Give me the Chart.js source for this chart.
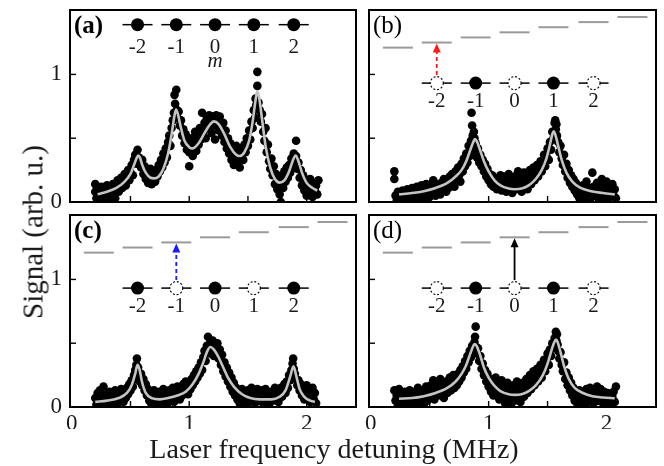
<!DOCTYPE html>
<html><head><meta charset="utf-8">
<script src="https://cdn.jsdelivr.net/npm/chart.js@4.4.1/dist/chart.umd.min.js"></script>
<style>
html,body{margin:0;padding:0;background:#fff;}
#wrap{position:relative;width:664px;height:466px;overflow:hidden;background:#fff;}
#wrap canvas{position:absolute;left:0;top:0;}
.ttl{position:absolute;font-family:'Liberation Serif','DejaVu Serif',serif;color:#1a1a1a;white-space:nowrap;line-height:1;}
</style></head><body>
<div id="wrap">
<canvas id="cA" width="664" height="466"></canvas>
<canvas id="cB" width="664" height="466"></canvas>
<canvas id="cC" width="664" height="466"></canvas>
<canvas id="cD" width="664" height="466"></canvas>
<div class="ttl" id="ytitle" style="font-size:29px;left:33px;top:232px;transform:translate(-50%,-50%) rotate(-90deg);">Signal (arb. u.)</div>
<div class="ttl" id="xtitle" style="font-size:28px;left:334px;top:449px;transform:translate(-50%,-50%);">Laser frequency detuning (MHz)</div>
</div>
<script>
// ---------------- data ----------------
const xTickLabels = [0, 1, 2];
const yTickLabels = [0, 1];
const xTickMarks = [0.5, 1, 1.5, 2];
const yTickMarks = [0, 0.5, 1];

const siteLabels = ['-2', '-1', '0', '1', '2'];
const sitePositions = [0.56, 0.89, 1.22, 1.55, 1.89];
const levelPositions = [0.23, 0.56, 0.89, 1.22, 1.55, 1.89, 2.22];
const levelEnergies = [1.21, 1.25, 1.29, 1.33, 1.37, 1.41, 1.45];

const occupationA = [1, 1, 1, 1, 1];
const occupationB = [0, 1, 0, 1, 0];
const occupationC = [1, 0, 1, 0, 1];
const occupationD = [0, 1, 0, 1, 0];

const scatterA = [
[0.20,0.14],[0.20,0.08],[0.21,0.03],[0.22,0.11],[0.23,0.05],[0.24,0.00],[0.25,0.12],[0.26,0.07],[0.27,0.02],[0.28,0.10],
[0.29,0.05],[0.30,0.13],[0.31,0.08],[0.32,0.03],[0.33,0.11],[0.34,0.06],[0.35,0.14],[0.36,0.09],[0.37,0.03],[0.38,0.13],
[0.39,0.17],[0.40,0.08],[0.41,0.14],[0.42,0.19],[0.43,0.11],[0.44,0.16],[0.45,0.22],[0.46,0.13],[0.47,0.20],[0.48,0.25],
[0.49,0.17],[0.50,0.23],[0.51,0.29],[0.52,0.21],[0.53,0.33],[0.54,0.37],[0.55,0.30],[0.56,0.41],[0.57,0.35],[0.58,0.31],
[0.59,0.27],[0.60,0.33],[0.61,0.22],[0.62,0.28],[0.63,0.18],[0.64,0.24],[0.65,0.15],[0.66,0.21],[0.67,0.26],[0.68,0.14],
[0.69,0.19],[0.70,0.23],[0.71,0.16],[0.72,0.25],[0.73,0.20],[0.74,0.29],[0.75,0.24],[0.76,0.33],[0.77,0.27],[0.78,0.38],
[0.79,0.31],[0.80,0.42],[0.81,0.35],[0.82,0.47],[0.83,0.52],[0.84,0.44],[0.85,0.58],[0.86,0.64],[0.87,0.70],[0.875,0.84],
[0.88,0.77],[0.89,0.88],[0.895,0.72],[0.90,0.66],[0.91,0.71],[0.92,0.60],[0.93,0.64],[0.94,0.52],[0.95,0.57],[0.96,0.46],
[0.97,0.53],[0.98,0.41],[0.99,0.48],[1.00,0.28],[1.00,0.39],[1.01,0.45],[1.02,0.50],[1.03,0.36],[1.04,0.47],[1.05,0.55],
[1.06,0.40],[1.07,0.52],[1.08,0.45],[1.09,0.58],[1.10,0.49],[1.11,0.70],[1.12,0.55],[1.13,0.62],[1.14,0.50],[1.15,0.66],
[1.16,0.58],[1.17,0.68],[1.18,0.61],[1.19,0.54],[1.20,0.67],[1.21,0.60],[1.22,0.49],[1.23,0.68],[1.24,0.63],[1.25,0.56],
[1.26,0.67],[1.27,0.60],[1.28,0.52],[1.29,0.62],[1.30,0.47],[1.31,0.56],[1.32,0.42],[1.33,0.50],[1.34,0.38],[1.35,0.46],
[1.36,0.33],[1.37,0.41],[1.38,0.29],[1.39,0.37],[1.40,0.44],[1.41,0.31],[1.42,0.38],[1.43,0.27],[1.44,0.35],[1.45,0.42],
[1.46,0.33],[1.47,0.45],[1.48,0.39],[1.49,0.50],[1.50,0.44],[1.51,0.56],[1.52,0.49],[1.53,0.63],[1.54,0.58],[1.55,0.72],
[1.56,0.66],[1.565,0.81],[1.57,0.76],[1.58,0.91],[1.58,1.02],[1.59,0.78],[1.60,0.72],[1.61,0.63],[1.62,0.69],[1.63,0.55],
[1.64,0.48],[1.65,0.58],[1.66,0.39],[1.67,0.45],[1.68,0.32],[1.69,0.26],[1.70,0.34],[1.71,0.21],[1.72,0.28],[1.73,0.14],
[1.74,0.22],[1.75,0.10],[1.76,0.18],[1.77,0.06],[1.78,0.13],[1.78,0.00],[1.79,0.20],[1.80,0.11],[1.81,0.24],[1.82,0.16],
[1.83,0.27],[1.84,0.19],[1.85,0.29],[1.86,0.23],[1.87,0.34],[1.88,0.28],[1.89,0.38],[1.90,0.31],[1.91,0.48],[1.91,0.36],
[1.92,0.26],[1.93,0.31],[1.94,0.19],[1.95,0.25],[1.96,0.13],[1.97,0.21],[1.98,0.09],[1.99,0.16],[2.00,0.05],[2.01,0.14],
[2.02,0.08],[2.03,0.18],[2.04,0.11],[2.05,0.04],[2.06,0.15],[2.07,0.09],[2.08,0.13],[2.09,0.06],[2.10,0.17]
];
const fitA = [
[0.22,0.06],[0.30,0.08],[0.38,0.11],[0.45,0.16],[0.50,0.22],[0.53,0.29],[0.555,0.35],[0.567,0.365],[0.58,0.35],[0.60,0.29],
[0.63,0.23],[0.67,0.19],[0.70,0.185],[0.74,0.20],[0.78,0.26],[0.82,0.38],[0.85,0.53],[0.875,0.68],[0.888,0.725],[0.90,0.70],
[0.93,0.58],[0.96,0.48],[1.00,0.43],[1.03,0.42],[1.08,0.46],[1.13,0.54],[1.18,0.61],[1.21,0.632],[1.25,0.61],[1.30,0.53],
[1.35,0.43],[1.40,0.37],[1.43,0.36],[1.47,0.39],[1.51,0.48],[1.54,0.63],[1.565,0.80],[1.58,0.87],[1.595,0.82],[1.62,0.65],
[1.65,0.44],[1.69,0.27],[1.73,0.18],[1.77,0.152],[1.81,0.17],[1.85,0.24],[1.88,0.32],[1.906,0.365],[1.93,0.32],[1.96,0.23],
[2.00,0.15],[2.05,0.11],[2.09,0.09]
];

const scatterB = [
[0.20,0.24],[0.20,0.18],[0.21,0.05],[0.22,0.01],[0.23,0.08],[0.24,0.03],[0.25,0.06],[0.26,0.00],[0.27,0.09],[0.28,0.04],
[0.29,0.07],[0.30,0.01],[0.31,0.10],[0.32,0.05],[0.33,0.02],[0.34,0.08],[0.35,0.11],[0.36,0.04],[0.37,0.09],[0.38,0.01],
[0.39,0.12],[0.40,0.06],[0.41,0.10],[0.42,0.03],[0.43,0.13],[0.44,0.07],[0.45,0.02],[0.46,0.11],[0.47,0.14],[0.48,0.06],
[0.49,0.10],[0.50,0.04],[0.51,0.13],[0.52,0.08],[0.53,0.17],[0.54,0.11],[0.55,0.05],[0.56,0.14],[0.57,0.09],[0.58,0.12],
[0.59,0.06],[0.60,0.15],[0.61,0.10],[0.62,0.18],[0.63,0.13],[0.64,0.08],[0.65,0.16],[0.66,0.11],[0.67,0.20],[0.68,0.14],
[0.69,0.22],[0.70,0.17],[0.71,0.12],[0.72,0.24],[0.73,0.19],[0.74,0.27],[0.75,0.21],[0.76,0.16],[0.77,0.30],[0.78,0.24],
[0.79,0.34],[0.80,0.28],[0.81,0.38],[0.82,0.31],[0.83,0.44],[0.84,0.36],[0.85,0.48],[0.855,0.70],[0.86,0.60],[0.865,0.52],
[0.87,0.45],[0.875,0.55],[0.88,0.50],[0.885,0.40],[0.89,0.46],[0.90,0.35],[0.91,0.42],[0.92,0.31],[0.93,0.37],[0.94,0.28],
[0.95,0.33],[0.96,0.24],[0.97,0.30],[0.98,0.20],[0.99,0.26],[1.00,0.17],[1.01,0.22],[1.02,0.14],[1.03,0.21],[1.04,0.12],
[1.05,0.19],[1.06,0.15],[1.07,0.10],[1.08,0.18],[1.09,0.13],[1.10,0.21],[1.11,0.09],[1.12,0.16],[1.13,0.12],[1.14,0.20],
[1.15,0.08],[1.16,0.15],[1.17,0.22],[1.18,0.11],[1.19,0.17],[1.20,0.07],[1.21,0.14],[1.22,0.20],[1.23,0.10],[1.24,0.16],
[1.25,0.24],[1.26,0.12],[1.27,0.19],[1.28,0.08],[1.29,0.15],[1.30,0.23],[1.31,0.13],[1.32,0.20],[1.33,0.10],[1.34,0.17],
[1.35,0.25],[1.36,0.14],[1.37,0.21],[1.38,0.27],[1.39,0.17],[1.40,0.23],[1.41,0.29],[1.42,0.20],[1.43,0.26],[1.44,0.32],
[1.45,0.24],[1.46,0.30],[1.47,0.37],[1.48,0.28],[1.49,0.36],[1.50,0.42],[1.51,0.33],[1.52,0.47],[1.53,0.41],[1.54,0.55],
[1.55,0.50],[1.56,0.62],[1.565,0.64],[1.57,0.57],[1.575,0.61],[1.58,0.52],[1.59,0.47],[1.60,0.39],[1.61,0.44],[1.62,0.34],
[1.63,0.29],[1.64,0.37],[1.65,0.24],[1.66,0.30],[1.67,0.19],[1.68,0.25],[1.69,0.15],[1.70,0.21],[1.71,0.12],[1.72,0.18],
[1.73,0.09],[1.74,0.15],[1.75,0.06],[1.76,0.12],[1.77,0.03],[1.78,0.10],[1.79,0.07],[1.80,0.13],[1.81,0.04],[1.82,0.09],
[1.83,0.16],[1.84,0.06],[1.85,0.11],[1.86,0.02],[1.87,0.08],[1.88,0.23],[1.89,0.12],[1.90,0.05],[1.91,0.10],[1.92,0.15],
[1.93,0.03],[1.94,0.08],[1.95,0.13],[1.96,0.18],[1.97,0.06],[1.98,0.11],[1.99,0.02],[2.00,0.16],[2.01,0.07],[2.02,0.12],
[2.03,0.04],[2.04,0.09],[2.05,0.14],[2.06,0.05],[2.07,0.10],[2.08,0.03]
];
const fitB = [
[0.24,0.06],[0.35,0.07],[0.45,0.085],[0.55,0.11],[0.65,0.15],[0.72,0.20],[0.77,0.25],[0.81,0.32],[0.845,0.41],[0.87,0.47],
[0.883,0.493],[0.90,0.475],[0.93,0.40],[0.96,0.32],[1.00,0.24],[1.05,0.17],[1.10,0.13],[1.17,0.105],[1.22,0.10],[1.28,0.105],
[1.34,0.13],[1.40,0.18],[1.45,0.25],[1.49,0.34],[1.52,0.45],[1.54,0.53],[1.551,0.554],[1.565,0.53],[1.59,0.44],[1.62,0.33],
[1.66,0.23],[1.71,0.16],[1.78,0.11],[1.87,0.085],[1.97,0.07],[2.07,0.06]
];

const scatterC = [
[0.20,0.07],[0.21,0.02],[0.22,0.11],[0.23,0.05],[0.24,0.13],[0.25,0.03],[0.26,0.09],[0.27,0.16],[0.28,0.06],[0.29,0.01],
[0.30,0.10],[0.31,0.04],[0.32,0.12],[0.33,0.07],[0.34,0.02],[0.35,0.10],[0.36,0.05],[0.37,0.13],[0.38,0.08],[0.39,0.03],
[0.40,0.11],[0.41,0.06],[0.42,0.14],[0.43,0.09],[0.44,0.04],[0.45,0.12],[0.46,0.07],[0.47,0.15],[0.48,0.10],[0.49,0.18],
[0.50,0.13],[0.51,0.21],[0.52,0.16],[0.53,0.25],[0.54,0.29],[0.545,0.22],[0.55,0.33],[0.555,0.38],[0.56,0.27],[0.565,0.31],
[0.57,0.24],[0.58,0.20],[0.59,0.26],[0.60,0.17],[0.61,0.22],[0.62,0.13],[0.63,0.18],[0.64,0.09],[0.65,0.14],[0.66,0.05],
[0.67,0.11],[0.68,0.02],[0.69,0.08],[0.70,0.13],[0.71,0.04],[0.72,0.10],[0.73,0.01],[0.74,0.07],[0.75,0.12],[0.76,0.03],
[0.77,0.09],[0.78,0.14],[0.79,0.05],[0.80,0.11],[0.81,0.02],[0.82,0.08],[0.83,0.13],[0.84,0.06],[0.85,0.10],[0.86,0.15],
[0.87,0.04],[0.88,0.12],[0.89,0.08],[0.90,0.16],[0.91,0.11],[0.92,0.06],[0.93,0.14],[0.94,0.09],[0.95,0.18],[0.96,0.12],
[0.97,0.20],[0.98,0.15],[0.99,0.10],[1.00,0.19],[1.01,0.14],[1.02,0.22],[1.03,0.17],[1.04,0.25],[1.05,0.20],[1.06,0.28],
[1.07,0.23],[1.08,0.31],[1.09,0.26],[1.10,0.35],[1.11,0.29],[1.12,0.39],[1.13,0.44],[1.14,0.36],[1.15,0.48],[1.16,0.55],
[1.17,0.42],[1.18,0.51],[1.19,0.46],[1.20,0.52],[1.21,0.40],[1.22,0.49],[1.23,0.44],[1.24,0.50],[1.25,0.38],[1.26,0.45],
[1.27,0.33],[1.28,0.41],[1.29,0.28],[1.30,0.35],[1.31,0.24],[1.32,0.31],[1.33,0.20],[1.34,0.27],[1.35,0.16],[1.36,0.23],
[1.37,0.12],[1.38,0.19],[1.39,0.09],[1.40,0.15],[1.41,0.06],[1.42,0.12],[1.43,0.03],[1.44,0.09],[1.45,0.14],[1.46,0.05],
[1.47,0.11],[1.48,0.02],[1.49,0.08],[1.50,0.13],[1.51,0.04],[1.52,0.10],[1.53,0.15],[1.54,0.06],[1.55,0.12],[1.56,0.03],
[1.57,0.09],[1.58,0.14],[1.59,0.05],[1.60,0.11],[1.61,0.07],[1.62,0.13],[1.63,0.03],[1.64,0.09],[1.65,0.14],[1.66,0.06],
[1.67,0.11],[1.68,0.02],[1.69,0.08],[1.70,0.12],[1.71,0.05],[1.72,0.10],[1.73,0.15],[1.74,0.07],[1.75,0.12],[1.76,0.04],
[1.77,0.10],[1.78,0.15],[1.79,0.08],[1.80,0.13],[1.81,0.18],[1.82,0.11],[1.83,0.20],[1.84,0.15],[1.85,0.25],[1.86,0.21],
[1.87,0.29],[1.88,0.34],[1.885,0.38],[1.89,0.30],[1.90,0.26],[1.91,0.22],[1.92,0.17],[1.93,0.21],[1.94,0.13],[1.95,0.18],
[1.96,0.09],[1.97,0.15],[1.98,0.06],[1.99,0.12],[2.00,0.17],[2.01,0.08],[2.02,0.13],[2.03,0.04],[2.04,0.10],[2.05,0.15],
[2.06,0.06],[2.07,0.11],[2.08,0.03]
];
const fitC = [
[0.20,0.04],[0.30,0.05],[0.40,0.07],[0.47,0.11],[0.51,0.17],[0.54,0.26],[0.56,0.33],[0.575,0.30],[0.60,0.19],[0.63,0.11],
[0.68,0.07],[0.75,0.06],[0.82,0.07],[0.90,0.09],[0.97,0.12],[1.03,0.18],[1.08,0.26],[1.12,0.35],[1.155,0.44],[1.18,0.47],
[1.21,0.45],[1.25,0.39],[1.29,0.31],[1.33,0.23],[1.38,0.16],[1.45,0.10],[1.52,0.07],[1.60,0.06],[1.70,0.06],[1.77,0.08],
[1.82,0.13],[1.86,0.24],[1.888,0.32],[1.91,0.25],[1.94,0.14],[1.98,0.08],[2.03,0.05],[2.07,0.04]
];

const scatterD = [
[0.20,0.13],[0.21,0.05],[0.22,0.09],[0.23,0.01],[0.24,0.14],[0.25,0.07],[0.26,0.03],[0.27,0.11],[0.28,0.06],[0.29,0.12],
[0.30,0.02],[0.31,0.09],[0.32,0.05],[0.33,0.13],[0.34,0.08],[0.35,0.01],[0.36,0.10],[0.37,0.04],[0.38,0.12],[0.39,0.07],
[0.40,0.15],[0.41,0.03],[0.42,0.10],[0.43,0.06],[0.44,0.13],[0.45,0.02],[0.46,0.09],[0.47,0.16],[0.48,0.05],[0.49,0.12],
[0.50,0.08],[0.51,0.17],[0.52,0.11],[0.53,0.21],[0.54,0.06],[0.55,0.14],[0.56,0.19],[0.57,0.09],[0.58,0.16],[0.59,0.22],
[0.60,0.12],[0.61,0.18],[0.62,0.07],[0.63,0.14],[0.64,0.20],[0.65,0.11],[0.66,0.17],[0.67,0.23],[0.68,0.13],[0.69,0.19],
[0.70,0.25],[0.71,0.15],[0.72,0.22],[0.73,0.17],[0.74,0.26],[0.75,0.20],[0.76,0.29],[0.77,0.23],[0.78,0.32],[0.79,0.27],
[0.80,0.36],[0.81,0.30],[0.82,0.40],[0.83,0.35],[0.84,0.44],[0.85,0.39],[0.86,0.48],[0.87,0.43],[0.88,0.51],[0.885,0.55],
[0.89,0.63],[0.895,0.47],[0.90,0.42],[0.91,0.46],[0.92,0.36],[0.93,0.40],[0.94,0.30],[0.95,0.34],[0.96,0.25],[0.97,0.29],
[0.98,0.20],[0.99,0.26],[1.00,0.16],[1.01,0.22],[1.02,0.12],[1.03,0.19],[1.04,0.09],[1.05,0.16],[1.06,0.23],[1.07,0.11],
[1.08,0.18],[1.09,0.06],[1.10,0.14],[1.11,0.21],[1.12,0.08],[1.13,0.15],[1.14,0.03],[1.15,0.12],[1.16,0.19],[1.17,0.07],
[1.18,0.14],[1.19,0.02],[1.20,0.10],[1.21,0.17],[1.22,0.05],[1.23,0.13],[1.24,0.20],[1.25,0.09],[1.26,0.16],[1.27,0.04],
[1.28,0.12],[1.29,0.19],[1.30,0.08],[1.31,0.15],[1.32,0.22],[1.33,0.11],[1.34,0.18],[1.35,0.25],[1.36,0.14],[1.37,0.21],
[1.38,0.28],[1.39,0.17],[1.40,0.24],[1.41,0.30],[1.42,0.20],[1.43,0.27],[1.44,0.33],[1.45,0.23],[1.46,0.31],[1.47,0.37],
[1.48,0.28],[1.49,0.36],[1.50,0.42],[1.51,0.33],[1.52,0.45],[1.53,0.40],[1.54,0.50],[1.55,0.46],[1.56,0.54],[1.57,0.59],
[1.575,0.52],[1.58,0.57],[1.585,0.49],[1.59,0.44],[1.60,0.38],[1.61,0.43],[1.62,0.33],[1.63,0.28],[1.64,0.35],[1.65,0.22],
[1.66,0.27],[1.67,0.17],[1.68,0.23],[1.69,0.13],[1.70,0.19],[1.71,0.09],[1.72,0.15],[1.73,0.05],[1.74,0.11],[1.75,0.03],
[1.76,0.08],[1.77,0.13],[1.78,0.05],[1.79,0.10],[1.80,0.02],[1.81,0.12],[1.82,0.07],[1.83,0.14],[1.84,0.04],[1.85,0.09],
[1.86,0.15],[1.87,0.06],[1.88,0.11],[1.89,0.03],[1.90,0.13],[1.91,0.08],[1.92,0.16],[1.93,0.05],[1.94,0.10],[1.95,0.14],
[1.96,0.04],[1.97,0.09],[1.98,0.12],[1.99,0.02],[2.00,0.07],[2.01,0.11],[2.02,0.05],[2.03,0.09],[2.04,0.03],[2.05,0.08],
[2.06,0.12],[2.07,0.04],[2.08,0.16]
];
const fitD = [
[0.24,0.065],[0.35,0.07],[0.45,0.085],[0.55,0.11],[0.65,0.15],[0.72,0.20],[0.77,0.26],[0.81,0.33],[0.845,0.42],[0.87,0.48],
[0.883,0.494],[0.90,0.475],[0.93,0.40],[0.96,0.31],[1.00,0.23],[1.05,0.165],[1.10,0.125],[1.17,0.10],[1.22,0.095],[1.28,0.10],
[1.34,0.125],[1.40,0.17],[1.46,0.25],[1.50,0.34],[1.535,0.45],[1.558,0.51],[1.572,0.528],[1.585,0.51],[1.61,0.43],[1.64,0.32],
[1.68,0.22],[1.73,0.15],[1.80,0.11],[1.88,0.085],[1.97,0.075],[2.07,0.068]
];

// ---------------- layout / style ----------------
const FONT = "'Liberation Serif', 'DejaVu Serif', serif";
const TEXT = '#1a1a1a';
const X_MIN = -0.015, X_MAX = 2.42, Y_MIN = 0, Y_MAX = 1.505;
const AXIS_W = 22, AXIS_H = 22;

const decorPlugin = {
  id: 'decor',
  afterDatasetsDraw(chart, args, o) {
    const { ctx, chartArea: a } = chart;
    const xs = chart.scales.x, ys = chart.scales.y;
    const X = v => xs.getPixelForValue(v), Y = v => ys.getPixelForValue(v);
    ctx.save();
    // inward ticks
    ctx.strokeStyle = '#000'; ctx.lineWidth = 1.4;
    xTickMarks.forEach(v => { const p = X(v); ctx.beginPath(); ctx.moveTo(p, a.bottom); ctx.lineTo(p, a.bottom - 6); ctx.stroke(); });
    yTickMarks.forEach(v => { const p = Y(v); ctx.beginPath(); ctx.moveTo(a.left, p); ctx.lineTo(a.left + 6, p); ctx.stroke(); });
    // frame
    ctx.lineWidth = 2; ctx.strokeRect(a.left, a.top, a.right - a.left, a.bottom - a.top);

    // energy levels
    if (o.levels) {
      ctx.strokeStyle = '#9a9a9a'; ctx.lineWidth = 2;
      levelPositions.forEach((lx, i) => {
        const cx = X(lx), ly = Y(levelEnergies[i]);
        ctx.beginPath(); ctx.moveTo(cx - 15, ly); ctx.lineTo(cx + 15, ly); ctx.stroke();
      });
    }
    // arrow
    const sy = Y(o.siteY);
    if (o.arrow) {
      const ax = X(sitePositions[o.arrow.site]);
      const topY = Y(levelEnergies[o.arrow.level]) + 1;
      const baseY = sy - 8;
      ctx.strokeStyle = o.arrow.color; ctx.fillStyle = o.arrow.color; ctx.lineWidth = 1.8;
      ctx.setLineDash(o.arrow.dashed ? [4, 3] : []);
      ctx.beginPath(); ctx.moveTo(ax, baseY); ctx.lineTo(ax, topY + 7); ctx.stroke();
      ctx.setLineDash([]);
      ctx.beginPath(); ctx.moveTo(ax, topY); ctx.lineTo(ax - 4, topY + 9); ctx.lineTo(ax + 4, topY + 9); ctx.closePath(); ctx.fill();
    }
    // lattice sites
    sitePositions.forEach((sx, i) => {
      const cx = X(sx);
      ctx.strokeStyle = '#000'; ctx.lineWidth = 1.5; ctx.setLineDash([]);
      ctx.beginPath(); ctx.moveTo(cx - 15, sy); ctx.lineTo(cx + 15, sy); ctx.stroke();
      ctx.beginPath(); ctx.arc(cx, sy, 6.5, 0, Math.PI * 2);
      if (o.occupation[i]) { ctx.fillStyle = '#000'; ctx.fill(); }
      else { ctx.fillStyle = '#fff'; ctx.fill(); ctx.lineWidth = 1.1; ctx.setLineDash([2, 1.8]); ctx.stroke(); ctx.setLineDash([]); }
      ctx.fillStyle = TEXT; ctx.font = '21px ' + FONT; ctx.textAlign = 'center'; ctx.textBaseline = 'middle';
      ctx.fillText(siteLabels[i], cx, Y(o.labelY));
    });
    if (o.mLabel) {
      ctx.font = 'italic 21px ' + FONT; ctx.textAlign = 'center'; ctx.textBaseline = 'middle';
      ctx.fillText(o.mLabel, X(sitePositions[2]), Y(o.mY));
    }
    // panel label
    ctx.fillStyle = '#000'; ctx.textAlign = 'left'; ctx.textBaseline = 'top';
    ctx.font = (o.bold ? 'bold ' : '') + '25px ' + FONT;
    ctx.fillText(o.label, a.left + 4, a.top + 4);
    ctx.restore();
  }
};

function makePanel(id, box, scatter, fit, showX, showY, decor) {
  new Chart(document.getElementById(id), {
    type: 'scatter',
    plugins: [decorPlugin],
    data: {
      datasets: [
        { data: fit.map(([x, y]) => ({ x, y })), showLine: true, borderColor: '#c4c4c4', borderWidth: 2.6,
          pointRadius: 0, cubicInterpolationMode: 'monotone', fill: false },
        { data: scatter.map(([x, y]) => ({ x, y })), pointRadius: 4.3, pointBackgroundColor: '#000',
          pointBorderWidth: 0, showLine: false }
      ]
    },
    options: {
      responsive: false, animation: false, devicePixelRatio: 1,
      layout: { padding: { left: box.left - AXIS_W, top: box.top, right: 664 - box.right, bottom: 466 - box.bottom - AXIS_H } },
      plugins: { legend: { display: false }, tooltip: { enabled: false }, decor },
      scales: {
        x: {
          type: 'linear', min: X_MIN, max: X_MAX,
          grid: { display: false, drawTicks: false }, border: { display: false },
          afterBuildTicks: s => { s.ticks = xTickLabels.map(v => ({ value: v })); },
          afterFit: s => { s.height = AXIS_H; s.paddingLeft = 0; s.paddingRight = 0; },
          ticks: { display: showX, padding: 3, color: TEXT, font: { family: FONT, size: 23 }, maxRotation: 0 }
        },
        y: {
          type: 'linear', min: Y_MIN, max: Y_MAX,
          grid: { display: false, drawTicks: false }, border: { display: false },
          afterBuildTicks: s => { s.ticks = yTickLabels.map(v => ({ value: v })); },
          afterFit: s => { s.width = AXIS_W; s.paddingTop = 0; s.paddingBottom = 0; },
          ticks: { display: showY, padding: 8, color: TEXT, font: { family: FONT, size: 23 } }
        }
      }
    }
  });
}

makePanel('cA', { left: 70, top: 10, right: 356, bottom: 202 }, scatterA, fitA, false, true,
  { label: '(a)', bold: true, occupation: occupationA, siteY: 1.39, labelY: 1.215, mLabel: 'm', mY: 1.10, levels: false, arrow: null });
makePanel('cB', { left: 369, top: 10, right: 656, bottom: 202 }, scatterB, fitB, false, false,
  { label: '(b)', bold: false, occupation: occupationB, siteY: 0.932, labelY: 0.787, levels: true,
    arrow: { site: 0, level: 1, color: '#ff1a1a', dashed: true } });
makePanel('cC', { left: 70, top: 215, right: 356, bottom: 407 }, scatterC, fitC, true, true,
  { label: '(c)', bold: true, occupation: occupationC, siteY: 0.932, labelY: 0.787, levels: true,
    arrow: { site: 1, level: 2, color: '#1a1aff', dashed: true } });
makePanel('cD', { left: 369, top: 215, right: 656, bottom: 407 }, scatterD, fitD, true, false,
  { label: '(d)', bold: false, occupation: occupationD, siteY: 0.932, labelY: 0.787, levels: true,
    arrow: { site: 2, level: 3, color: '#000', dashed: false } });
</script>
</body></html>
